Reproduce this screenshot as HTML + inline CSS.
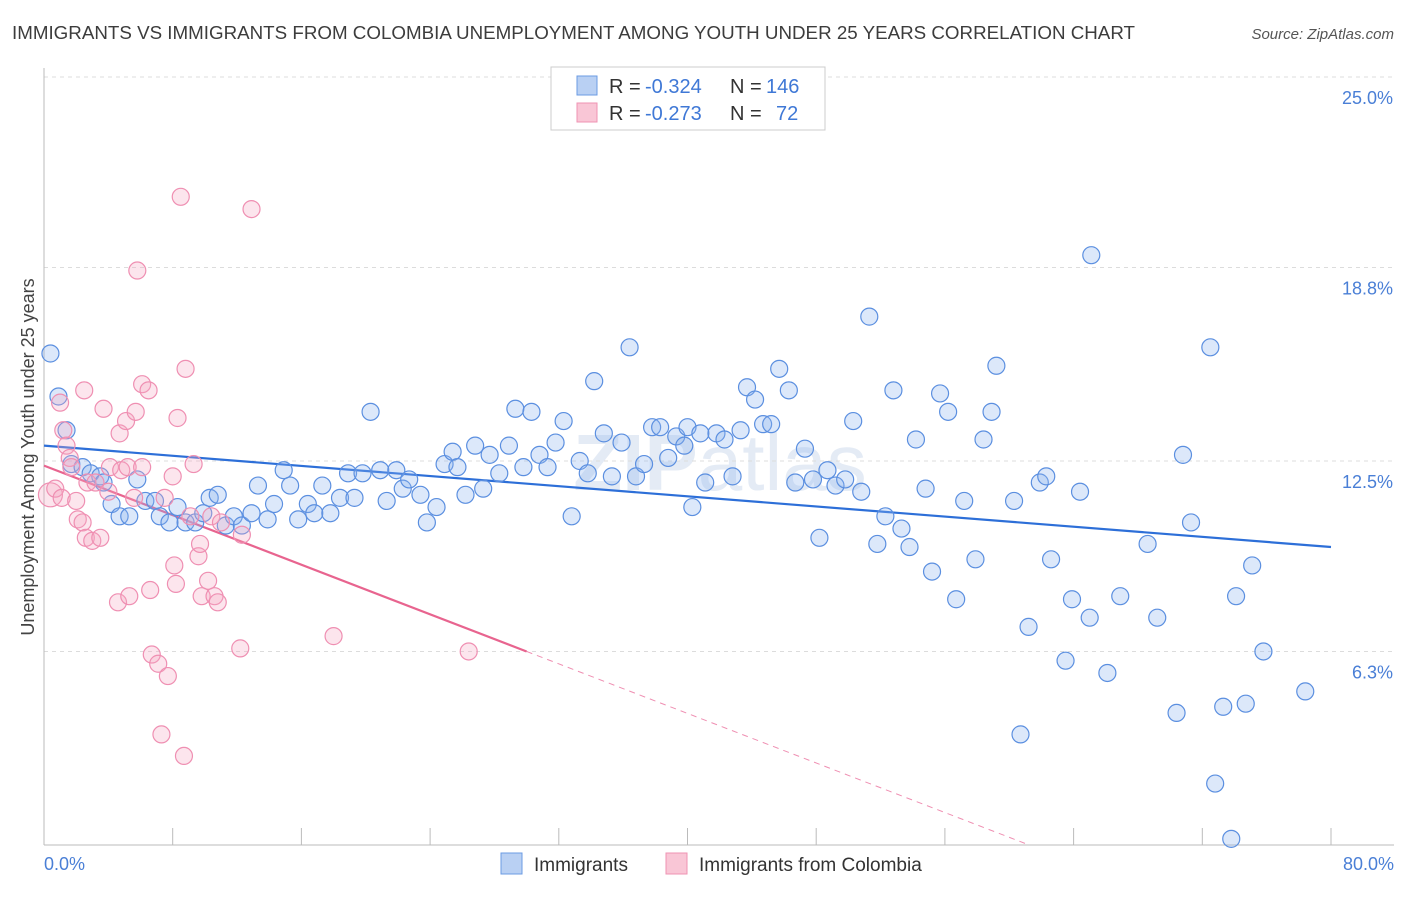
<!DOCTYPE html>
<html><head><meta charset="utf-8"><style>
body{margin:0;background:#fff;font-family:"Liberation Sans",sans-serif;}
svg text{font-family:"Liberation Sans",sans-serif;}
</style></head><body>
<svg id="chart" width="1406" height="892" viewBox="0 0 1406 892" xmlns="http://www.w3.org/2000/svg">
<text x="12" y="39" font-size="18.7" fill="#3c3c3c" textLength="1123" lengthAdjust="spacingAndGlyphs">IMMIGRANTS VS IMMIGRANTS FROM COLOMBIA UNEMPLOYMENT AMONG YOUTH UNDER 25 YEARS CORRELATION CHART</text>
<text x="1394" y="39" font-size="15" fill="#555" text-anchor="end" font-style="italic">Source: ZipAtlas.com</text>
<text x="720" y="490" font-size="80" fill="#e4ebf5" text-anchor="middle" font-weight="bold">ZIP<tspan font-weight="normal">atlas</tspan></text>
<g id="grid"></g><g id="axes"></g><g id="trend"></g><g id="pts"></g>
<text transform="translate(34,457) rotate(-90)" font-size="18" fill="#444" text-anchor="middle">Unemployment Among Youth under 25 years</text>
<text x="44" y="870" font-size="18" fill="#4a7fd6">0.0%</text>
<text x="1394" y="870" font-size="18" fill="#4a7fd6" text-anchor="end">80.0%</text>
<g>
<rect x="551" y="67" width="274" height="63" fill="#fff" stroke="#ccc"/>
<rect x="577" y="76" width="20" height="19" fill="#b9d0f3" stroke="#6b9be3"/>
<text x="609" y="93" font-size="20" fill="#333">R =</text>
<text x="645" y="93" font-size="20" fill="#3f78d6">-0.324</text>
<text x="730" y="93" font-size="20" fill="#333">N =</text>
<text x="766" y="93" font-size="20" fill="#3f78d6">146</text>
<rect x="577" y="103" width="20" height="19" fill="#f9c6d6" stroke="#ef93b3"/>
<text x="609" y="120" font-size="20" fill="#333">R =</text>
<text x="645" y="120" font-size="20" fill="#3f78d6">-0.273</text>
<text x="730" y="120" font-size="20" fill="#333">N =</text>
<text x="776" y="120" font-size="20" fill="#3f78d6">72</text>
</g>
<g>
<rect x="501" y="853" width="21" height="21" fill="#b9d0f3" stroke="#6b9be3"/>
<text x="534" y="871" font-size="19" fill="#333">Immigrants</text>
<rect x="666" y="853" width="21" height="21" fill="#f9c6d6" stroke="#ef93b3"/>
<text x="699" y="871" font-size="19" fill="#333">Immigrants from Colombia</text>
</g>
</svg>
<script>
const blueX=[0.4,0.9,1.4,1.7,2.4,2.9,3.5,3.7,4.2,4.7,5.3,5.8,6.3,6.9,7.2,7.8,8.3,8.8,9.4,9.9,10.3,10.8,11.3,11.8,12.3,12.9,13.3,13.9,14.3,14.9,15.3,15.8,16.4,16.8,17.3,17.8,18.4,18.9,19.3,19.8,20.3,20.9,21.3,21.9,22.3,22.7,23.4,23.8,24.4,24.9,25.4,25.7,26.2,26.8,27.3,27.7,28.3,28.9,29.3,29.8,30.3,30.8,31.3,31.8,32.3,32.8,33.3,33.8,34.2,34.8,35.3,35.9,36.4,36.8,37.3,37.8,38.3,38.8,39.3,39.8,40.0,40.3,40.8,41.1,41.8,42.3,42.8,43.3,43.7,44.2,44.7,45.2,45.7,46.3,46.7,47.3,47.8,48.2,48.7,49.2,49.8,50.3,50.8,51.3,51.8,52.3,52.8,53.3,53.8,54.2,54.8,55.2,55.7,56.2,56.7,57.2,57.9,58.4,58.9,59.2,60.3,61.2,61.9,62.3,60.7,62.6,63.5,63.9,64.4,65.0,65.1,66.1,66.9,68.6,69.2,70.4,70.8,71.3,72.5,72.8,73.3,73.8,74.1,74.7,75.1,75.8,78.4];
const blueY=[16.0,14.6,13.5,12.4,12.3,12.1,12.0,11.8,11.1,10.7,10.7,11.9,11.2,11.2,10.7,10.5,11.0,10.5,10.5,10.8,11.3,11.4,10.4,10.7,10.4,10.8,11.7,10.6,11.1,12.2,11.7,10.6,11.1,10.8,11.7,10.8,11.3,12.1,11.3,12.1,14.1,12.2,11.2,12.2,11.6,11.9,11.4,10.5,11.0,12.4,12.8,12.3,11.4,13.0,11.6,12.7,12.1,13.0,14.2,12.3,14.1,12.7,12.3,13.1,13.8,10.7,12.5,12.1,15.1,13.4,12.0,13.1,16.2,12.0,12.4,13.6,13.6,12.6,13.3,13.0,13.6,11.0,13.4,11.8,13.4,13.2,12.0,13.5,14.9,14.5,13.7,13.7,15.5,14.8,11.8,12.9,11.9,10.0,12.2,11.7,11.9,13.8,11.5,17.2,9.8,10.7,14.8,10.3,9.7,13.2,11.6,8.9,14.7,14.1,8.0,11.2,9.3,13.2,14.1,15.6,11.2,7.1,11.8,12.0,3.6,9.3,6.0,8.0,11.5,7.4,19.2,5.6,8.1,9.8,7.4,4.3,12.7,10.5,16.2,2.0,4.5,0.2,8.1,4.6,9.1,6.3,5.0];
const pinkX=[0.4,0.7,1.0,1.1,1.2,1.4,1.6,1.7,2.0,2.1,2.4,2.5,2.6,2.7,3.0,3.2,3.5,3.7,4.0,4.1,4.6,4.7,4.8,5.1,5.2,5.3,5.6,5.7,5.8,6.1,6.1,6.5,6.6,6.7,7.1,7.3,7.5,7.7,8.0,8.1,8.2,8.3,8.5,8.7,8.8,9.1,9.3,9.6,9.7,9.8,10.2,10.4,10.6,10.8,11.0,12.2,12.3,12.9,18.0,26.4];
const pinkY=[11.4,11.6,14.4,11.3,13.5,13.0,12.6,12.3,11.2,10.6,10.5,14.8,10.0,11.8,9.9,11.8,10.0,14.2,11.5,12.3,7.9,13.4,12.2,13.8,12.3,8.1,11.3,14.1,18.7,12.3,15.0,14.8,8.3,6.2,5.9,3.6,11.3,5.5,12.0,9.1,8.5,13.9,21.1,2.9,15.5,10.7,12.4,9.4,9.8,8.1,8.6,10.7,8.1,7.9,10.5,6.4,10.1,20.7,6.8,6.3];
const yTicks=[25.0,18.8,12.5,6.3];
const yTickLabels=["25.0%","18.8%","12.5%","6.3%"];
const xTicks=[0,8,16,24,32,40,48,56,64,72,80];
const blueTrend=[13.0,9.7];
const pinkTrend=[12.35,6.3,30];

const NS="http://www.w3.org/2000/svg";
const X=v=>44+v*(1287/80);
const Y=v=>845-v*30.72;
function mk(tag,attrs,parent){const e=document.createElementNS(NS,tag);for(const k in attrs)e.setAttribute(k,attrs[k]);document.getElementById(parent).appendChild(e);return e;}
yTicks.forEach((t,i)=>{
 const l=mk('line',{x1:44,x2:1394,y1:Y(t),y2:Y(t),stroke:'#dcdcdc','stroke-dasharray':'4,4'},'grid');
 
 
 const tx=mk('text',{x:1393,y:Y(t)+27,'font-size':18,fill:'#4a7fd6','text-anchor':'end'},'grid');
 tx.textContent=yTickLabels[i];
 
 
});
const ax=mk('line',{x1:44,x2:1394,y1:845,y2:845,stroke:'#bbb'},'axes');


const ay=mk('line',{x1:44,x2:44,y1:68,y2:845,stroke:'#bbb'},'axes');


xTicks.forEach(t=>{
 const l=mk('line',{x1:X(t),x2:X(t),y1:828,y2:845,stroke:'#bbb'},'axes');
 
 
});
blueX.forEach((x,i)=>{
 const c=mk('circle',{cx:X(x),cy:Y(blueY[i]),r:8.5,fill:'rgba(140,180,240,0.3)',stroke:'#5b8fe0','stroke-width':1.2},'pts');
 
 
});
pinkX.forEach((x,i)=>{
 const c=mk('circle',{cx:X(x),cy:Y(pinkY[i]),r:i==0?12:8.5,fill:'rgba(245,170,195,0.3)',stroke:'#ef8fb2','stroke-width':1.2},'pts');
 
 
});
const bt=mk('line',{x1:X(0),y1:Y(blueTrend[0]),x2:X(80),y2:Y(blueTrend[1]),stroke:'#2d6fd8','stroke-width':2.2},'trend');


const slope=(pinkTrend[1]-pinkTrend[0])/pinkTrend[2];
const pt=mk('line',{x1:X(0),y1:Y(pinkTrend[0]),x2:X(pinkTrend[2]),y2:Y(pinkTrend[1]),stroke:'#e8648f','stroke-width':2.2},'trend');


const xEnd=-pinkTrend[0]/slope;
const pd=mk('line',{x1:X(pinkTrend[2]),y1:Y(pinkTrend[1]),x2:X(xEnd),y2:Y(0),stroke:'#ef8fb2','stroke-width':1,'stroke-dasharray':'6,5'},'trend');


</script>
</body></html>
